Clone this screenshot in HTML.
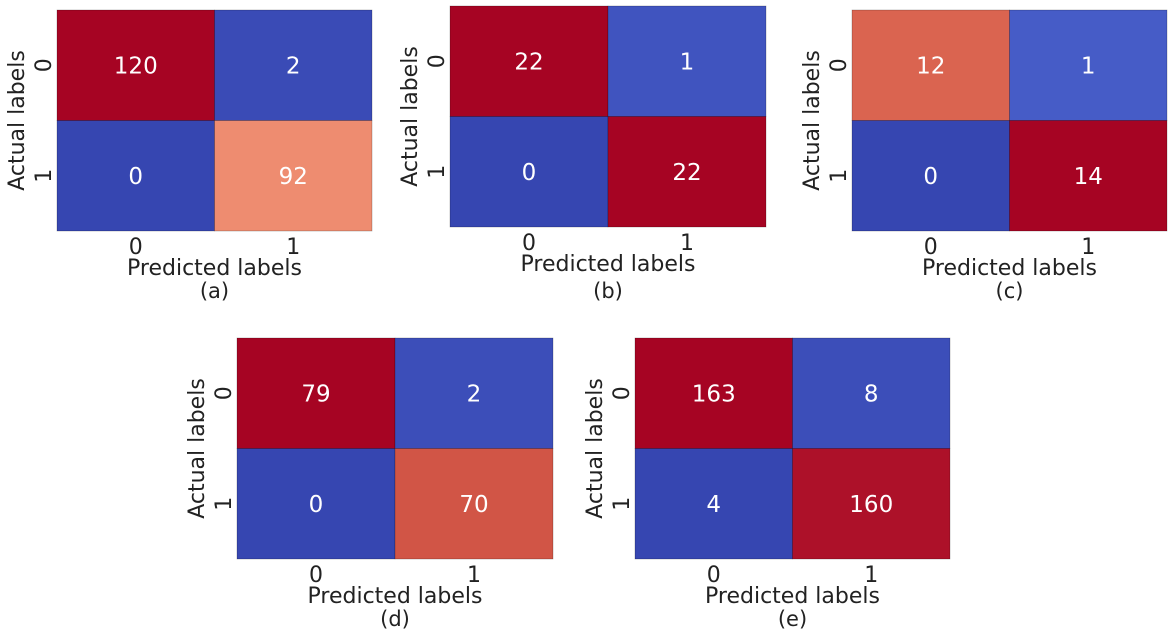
<!DOCTYPE html>
<html><head><meta charset="utf-8"><style>
html,body{margin:0;padding:0;background:#fff;}
svg{display:block;font-family:"DejaVu Sans","Liberation Sans",sans-serif;}
</style></head><body>
<svg id="fig" width="1170" height="640" viewBox="0 0 1170 640"></svg>
<script>
const panelIds = ["a","b","c","d","e"];
const matA = [[120,2],[0,92]];
const matB = [[22,1],[0,22]];
const matC = [[12,1],[0,14]];
const matD = [[79,2],[0,70]];
const matE = [[163,8],[4,160]];
const classLabels = ["0","1"];
const mats = [matA,matB,matC,matD,matE];
// layout boxes [left, top, right, bottom, captionY]
const boxes = [[57,10,372,231,298],[450,6,766,227,298],[852,10,1167,231,298],[237,338,553,559,626],[635,338,950,559,626]];
const cw = [[0,59,76,192],[0.1,79,105,217],[0.2,103,136,238],[0.3,132,167,252],[0.4,163,194,254],[0.5,221,220,220],[0.6,246,191,166],[0.7,246,165,137],[0.8,238,130,102],[0.9,214,82,68],[1,180,4,38]];
function coolwarm(t){
  t=Math.max(0,Math.min(1,t));
  const f0=1-0.08*Math.pow(Math.abs(2*t-1),3);
  for(let i=0;i<cw.length-1;i++){
    const a=cw[i],b=cw[i+1];
    if(t<=b[0]){const f=(t-a[0])/(b[0]-a[0]);
      const c=[1,2,3].map(k=>Math.round((a[k]+(b[k]-a[k])*f)*f0));
      return `rgb(${c[0]},${c[1]},${c[2]})`;}
  }
  return "rgb(166,4,35)";
}
const NS="http://www.w3.org/2000/svg";
const svg=document.getElementById("fig");
function mk(tag,attrs,parent){const e=document.createElementNS(NS,tag);for(const k in attrs)e.setAttribute(k,attrs[k]);parent.appendChild(e);return e;}
mats.forEach((m,p)=>{
  const [L,T,R,B,CY]=boxes[p];
  const g=mk("g",{},svg);
  
  
  const flat=m.flat();const mn=Math.min(...flat),mx=Math.max(...flat);
  const xs=c=>L+(R-L)*c/2, ys=r=>T+(B-T)*r/2;
  for(let r=0;r<2;r++)for(let c=0;c<2;c++){
    const v=m[r][c];const t=(v-mn)/(mx-mn||1);
    const rect=mk("rect",{x:xs(c),y:ys(r),width:xs(c+1)-xs(c),height:ys(r+1)-ys(r),fill:coolwarm(t),stroke:"rgba(0,0,0,0.35)","stroke-width":0.6},g);
    
    
    const tx=mk("text",{x:(xs(c)+xs(c+1))/2,y:(ys(r)+ys(r+1))/2+8,"text-anchor":"middle","font-size":23,fill:"#fff"},g);
    tx.textContent=v;
    
    
  }
  classLabels.forEach((lb,i)=>{
    const xt=mk("text",{x:(xs(i)+xs(i+1))/2,y:B+23,"text-anchor":"middle","font-size":22,fill:"#222"},g);
    xt.textContent=lb;
    
    
    const cy=(ys(i)+ys(i+1))/2;
    const yt=mk("text",{x:0,y:0,transform:`translate(${L-6},${cy}) rotate(-90)`,"text-anchor":"middle","font-size":22,fill:"#222"},g);
    yt.textContent=lb;
    
    
  });
  const xl=mk("text",{x:(L+R)/2,y:B+44,"text-anchor":"middle","font-size":22,fill:"#222"},g);
  xl.textContent="Predicted labels";
  
  
  const yl=mk("text",{x:0,y:0,transform:`translate(${L-33},${(T+B)/2}) rotate(-90)`,"text-anchor":"middle","font-size":22,fill:"#222"},g);
  yl.textContent="Actual labels";
  
  
  const cap=mk("text",{x:(L+R)/2,y:CY,"text-anchor":"middle","font-size":21,fill:"#222"},g);
  cap.textContent="("+panelIds[p]+")";
  
  
});
</script>
</body></html>
